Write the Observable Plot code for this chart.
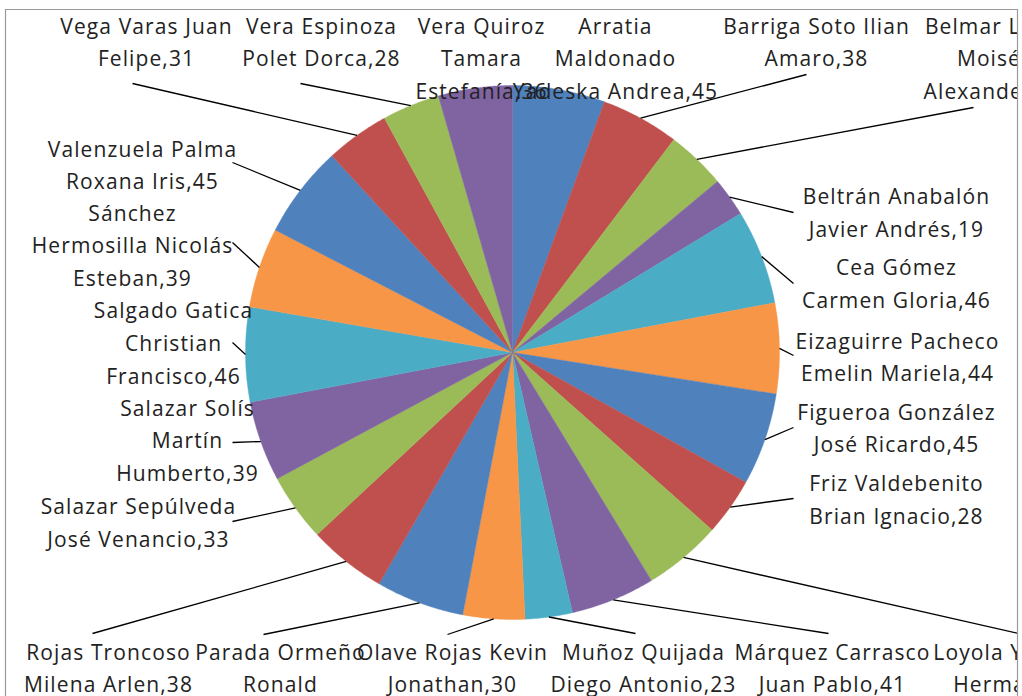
<!DOCTYPE html>
<html>
<head>
<meta charset="utf-8">
<script src="https://cdn.jsdelivr.net/npm/d3@7"></script>
<script src="https://cdn.jsdelivr.net/npm/@observablehq/plot@0.6"></script>
<style>
  html, body { margin: 0; padding: 0; background: #fff; }
  #chart { width: 1022px; height: 696px; overflow: hidden; }
  #chart svg text { letter-spacing: 1.1px; }
</style>
</head>
<body>
<div id="chart"></div>
<script>
// ---- Data (clockwise from 12 o'clock) ----
const nameLines = [
  ["Arratia", "Maldonado", "Yadeska Andrea"],
  ["Barriga Soto Ilian", "Amaro"],
  ["Belmar Leiva", "Moisés", "Alexander"],
  ["Beltrán Anabalón", "Javier Andrés"],
  ["Cea Gómez", "Carmen Gloria"],
  ["Eizaguirre Pacheco", "Emelin Mariela"],
  ["Figueroa González", "José Ricardo"],
  ["Friz Valdebenito", "Brian Ignacio"],
  ["Loyola Yáñez", "Hermann", "Alonso"],
  ["Márquez Carrasco", "Juan Pablo"],
  ["Muñoz Quijada", "Diego Antonio"],
  ["Olave Rojas Kevin", "Jonathan"],
  ["Parada Ormeño", "Ronald", "Alexis"],
  ["Rojas Troncoso", "Milena Arlen"],
  ["Salazar Sepúlveda", "José Venancio"],
  ["Salazar Solís", "Martín", "Humberto"],
  ["Salgado Gatica", "Christian", "Francisco"],
  ["Sánchez", "Hermosilla Nicolás", "Esteban"],
  ["Valenzuela Palma", "Roxana Iris"],
  ["Vega Varas Juan", "Felipe"],
  ["Vera Espinoza", "Polet Dorca"],
  ["Vera Quiroz", "Tamara", "Estefanía"]
];
const values = [45, 38, 29, 19, 46, 44, 45, 28, 38, 41, 23, 30, 43, 38, 33, 39, 46, 39, 45, 31, 28, 36];
const palette = ["#4F81BD", "#C0504D", "#9BBB59", "#8064A2", "#4BACC6", "#F79646"];

// ---- Layout (label block centres and leader-line label ends) ----
const labelX = [615, 816, 994, 896, 896, 897, 896, 896, 1003, 832, 643, 452, 280, 108, 138, 187, 173, 132, 142, 146, 321, 481];
const labelY = [59, 42.5, 59, 213, 284, 357.5, 428.5, 500, 685, 668.5, 668.5, 668.5, 685, 668.5, 523, 441, 343.5, 246, 165.5, 42.5, 42.5, 59];
const lineEndX = [null, 806, 973, 793, 793, 793, 793, 793, 1040, 828, 635, 447, 263, 92, 232, 232, 232, 232, 232, 132, 300, null];
const lineEndY = [null, 74, 107, 212, 283, 355, 427, 498, 638, 633, 633, 634, 634, 633, 521, 442, 342, 242, 162, 83, 83, null];

const cx = 512, cy = 352, R = 267;
const xDomain = [5, 1017], yDomain = [9, 696];

const names = nameLines.map(l => l.join(" "));
const arcs = d3.pie().sort(null).value(d => d)(values);

// slice polygons
const slicePts = [];
arcs.forEach((a, i) => {
  slicePts.push({name: names[i], x: cx, y: cy});
  const n = Math.max(2, Math.ceil((a.endAngle - a.startAngle) / (Math.PI / 360)));
  for (let k = 0; k <= n; ++k) {
    const t = a.startAngle + (a.endAngle - a.startAngle) * k / n;
    slicePts.push({name: names[i], x: cx + R * Math.sin(t), y: cy - R * Math.cos(t)});
  }
  slicePts.push({name: names[i], x: cx, y: cy});
});

const labels = nameLines.map((lines, i) => {
  const l = lines.slice();
  l[l.length - 1] = l[l.length - 1] + "," + values[i];
  return {name: names[i], text: l.join("\n"), x: labelX[i], y: labelY[i]};
});

const leaders = arcs.map((a, i) => {
  const m = (a.startAngle + a.endAngle) / 2;
  return {name: names[i], x1: cx + R * Math.sin(m), y1: cy - R * Math.cos(m), x2: lineEndX[i], y2: lineEndY[i]};
}).filter(d => d.x2 != null);

const chart = Plot.plot({
  width: 1022,
  height: 696,
  marginLeft: xDomain[0],
  marginRight: 1022 - xDomain[1],
  marginTop: yDomain[0],
  marginBottom: 696 - yDomain[1],
  x: {type: "linear", domain: xDomain, axis: null},
  y: {type: "linear", domain: yDomain, reverse: true, axis: null},
  color: {domain: names, range: names.map((_, i) => palette[i % palette.length])},
  style: {background: "#fff"},
  marks: [
    Plot.line(slicePts, {x: "x", y: "y", z: "name", fill: "name", stroke: "name", strokeWidth: 0.4, curve: "linear"}),
    Plot.link(leaders, {x1: "x1", y1: "y1", x2: "x2", y2: "y2", stroke: "#000", strokeWidth: 1.3, clip: true}),
    Plot.text(labels, {x: "x", y: "y", dy: -3.5, text: "text", lineAnchor: "middle", lineHeight: 1.56, fontSize: 21, fontFamily: "Open Sans", fill: "#222", clip: true}),
    Plot.ruleX([xDomain[0], xDomain[1]], {stroke: "#999", strokeWidth: 1.2}),
    Plot.ruleY([yDomain[0]], {stroke: "#999", strokeWidth: 1.2})
  ]
});
document.getElementById("chart").appendChild(chart);
</script>
</body>
</html>
